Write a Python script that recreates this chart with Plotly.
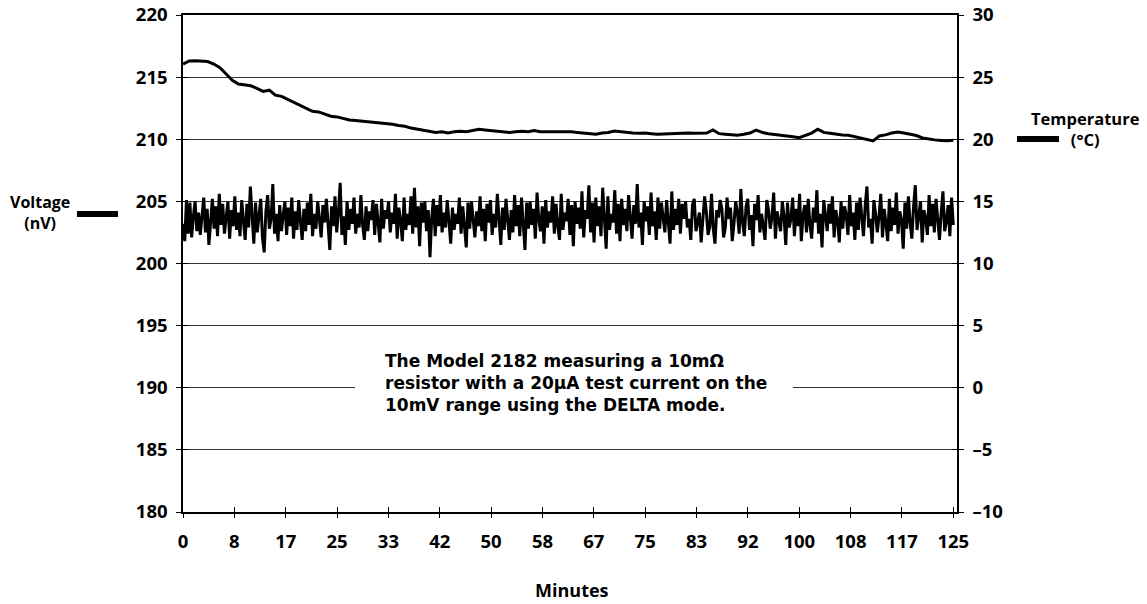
import plotly.graph_objects as go

# ---------------- data ----------------
voltage_nv = [
    203.2, 201.8, 205.1, 202.4, 204.9, 202.1, 203.8, 205.0, 202.6, 204.1, 202.3, 203.9, 205.3, 202.5, 204.4, 201.5, 203.6, 205.2, 202.8, 204.6,
    202.2, 205.6, 203.1, 204.8, 202.4, 203.7, 205.0, 202.0, 204.3, 203.0, 205.4, 202.7, 204.1, 202.2, 205.1, 203.4, 201.9, 204.8, 202.9, 206.2,
    203.3, 201.6, 204.9, 202.5, 203.8, 205.2, 202.1, 200.9, 204.2, 205.5, 202.8, 203.6, 206.4, 202.4, 204.0, 201.8, 204.7, 202.6, 203.9, 205.0,
    202.3, 204.5, 203.0, 205.3, 202.0, 204.2, 202.7, 205.1, 203.4, 201.9, 204.4, 202.6, 204.9, 203.1, 205.6, 202.2, 204.0, 202.8, 205.0, 203.5,
    202.1, 204.7, 203.3, 205.2, 202.9, 201.1, 204.6, 203.0, 205.4, 202.5, 204.1, 206.5, 202.3, 203.8, 201.5, 205.0, 202.7, 204.4, 203.2, 205.3,
    202.4, 204.0, 202.9, 205.5, 203.1, 201.9, 204.6, 202.6, 204.2, 203.5, 205.1, 202.3, 204.8, 203.0, 201.7, 205.2, 202.8, 204.3, 203.6, 205.0,
    202.5, 204.1, 203.2, 205.6, 202.0, 204.5, 203.4, 201.8, 205.3, 202.7, 204.0, 203.1, 205.4, 202.4, 206.1, 202.9, 204.6, 201.4, 204.9, 203.3,
    205.0, 202.6, 204.3, 200.5, 203.7, 205.2, 202.2, 204.7, 203.0, 205.5, 202.5, 204.1, 202.9, 205.1, 203.4, 201.6, 204.5, 202.7, 204.0, 203.2,
    205.3, 202.4, 204.6, 203.1, 201.3, 204.9, 202.8, 205.0, 203.5, 202.1, 204.2, 203.0, 205.4, 202.6, 204.4, 201.8, 204.8, 203.3, 205.1, 202.3,
    204.0, 202.9, 205.6, 203.2, 201.5, 204.5, 202.7, 205.2, 203.6, 201.9, 204.3, 202.5, 205.5, 203.0, 204.7, 202.2, 205.3, 203.4, 201.1, 204.9,
    202.8, 205.0, 203.1, 204.4, 202.0, 205.7, 203.5, 202.6, 204.6, 201.6, 205.1, 202.9, 204.2, 203.3, 205.4, 202.4, 204.8, 203.0, 201.9, 205.6,
    202.7, 204.1, 203.4, 205.2, 202.3, 204.7, 201.4, 205.0, 203.2, 204.5, 202.8, 205.8, 202.1, 204.3, 203.6, 206.3, 202.5, 204.9, 201.7, 205.3,
    203.0, 204.6, 202.2, 206.1, 203.5, 201.2, 205.4, 202.7, 204.0, 203.3, 205.9, 202.4, 204.8, 201.8, 205.2, 203.1, 204.4, 202.6, 205.5, 203.8,
    202.0, 204.7, 203.2, 206.4, 202.9, 204.1, 201.5, 205.0, 203.4, 204.6, 202.3, 205.7, 203.0, 204.2, 201.9, 205.3, 202.8, 204.9, 203.5, 202.5,
    205.1, 203.3, 201.6, 205.8, 202.7, 204.4, 203.1, 205.2, 202.4, 204.8, 203.6, 205.0,
    202.9, 203.6, 201.9, 204.7, 205.2, 202.6, 203.4, 204.1, 201.7, 203.9, 205.4, 204.2, 202.3, 203.0, 205.6, 202.8, 201.6, 204.3, 203.7, 205.1,
    204.4, 202.1, 202.9, 205.3, 203.6, 204.5, 201.8, 203.2, 205.0, 204.1, 202.4, 206.0, 203.3, 202.2, 204.6, 205.2, 202.7, 203.9, 201.4, 204.8,
    203.5, 205.5, 202.5, 204.0, 203.1, 201.9, 205.1, 204.3, 202.8, 203.7, 205.7, 202.0, 204.2, 203.4, 202.6, 205.0, 203.8, 201.5, 204.9, 202.9,
    203.6, 205.3, 202.2, 204.4, 203.0, 205.6, 201.8, 203.9, 204.7, 202.5, 205.2, 203.1, 202.0, 204.5, 203.3, 205.9, 202.4, 204.0, 201.3, 205.1,
    203.7, 202.6, 204.8, 203.2, 205.4, 202.1, 204.3, 203.5, 201.7, 205.0, 202.8, 204.6, 203.9, 202.3, 205.5, 203.0, 204.1, 201.9, 204.9, 202.7,
    205.3, 203.4, 202.2, 204.7, 206.2, 202.9, 203.6, 201.6, 205.1, 204.0, 202.5, 203.8, 205.6, 202.1, 204.4, 203.2, 201.8, 205.2, 202.6, 204.5,
    203.1, 205.7, 202.4, 204.2, 203.5, 201.2, 204.9, 202.8, 205.4, 203.3, 202.0, 204.6, 206.3, 202.7, 203.9, 205.0, 201.7, 204.3, 203.6, 202.3,
    205.5, 203.0, 204.8, 202.5, 205.2, 203.7, 201.9, 204.1, 205.8, 202.6, 203.4, 204.7, 202.2, 205.3, 203.1,
]

temperature_c = [
    26.05, 26.3, 26.32, 26.3, 26.25, 26.05, 25.75, 25.25, 24.75, 24.45, 24.4, 24.3, 24.1, 23.85, 23.95, 23.55, 23.45, 23.2, 23.0, 22.7,
    22.5, 22.25, 22.2, 22.0, 21.85, 21.8, 21.65, 21.55, 21.5, 21.45, 21.4, 21.35, 21.3, 21.3, 21.2, 21.1, 21.05, 20.9, 20.8, 20.7,
    20.62, 20.55, 20.6, 20.5, 20.6, 20.65, 20.6, 20.7, 20.8, 20.75, 20.7, 20.6, 20.55, 20.55, 20.6, 20.65, 20.6, 20.7, 20.6, 20.6,
    20.6, 20.62, 20.65, 20.6, 20.55, 20.5, 20.45, 20.4, 20.5, 20.55, 20.67, 20.6, 20.55, 20.5, 20.48, 20.5, 20.45, 20.4, 20.42, 20.45,
    20.45, 20.48, 20.5, 20.48, 20.5, 20.5, 20.75, 20.45, 20.4, 20.35, 20.32, 20.4, 20.5, 20.73, 20.55, 20.45, 20.4, 20.35, 20.3, 20.2,
    20.13, 20.3, 20.5, 20.8, 20.55, 20.48, 20.4, 20.35, 20.32, 20.2, 20.05, 19.95, 19.87, 20.27, 20.35, 20.5, 20.59, 20.5, 20.4, 20.3,
    20.1, 20.0, 19.95, 19.9, 19.87, 19.92,
]

duration_min = 125
x_tick_labels = ["0", "8", "17", "25", "33", "42", "50", "58", "67", "75", "83", "92", "100", "108", "117", "125"]
left_tick_vals = [180, 185, 190, 195, 200, 205, 210, 215, 220]
right_tick_vals = [-10, -5, 0, 5, 10, 15, 20, 25, 30]
right_tick_labels = ["\u201310", "\u20135", "0", "5", "10", "15", "20", "25", "30"]

# sample times (uniform sampling over the run)
nv = len(voltage_nv)
t_v = [duration_min * i / (nv - 1) for i in range(nv)]
nt = len(temperature_c)
t_t = [duration_min * i / (nt - 1) for i in range(nt)]
x_tick_vals = [duration_min * i / (len(x_tick_labels) - 1) for i in range(len(x_tick_labels))]

FONT = "Open Sans"
tick_font = dict(family=FONT, size=18.5, color="black", weight="bold")

fig = go.Figure()
fig.add_trace(go.Scatter(x=t_v, y=voltage_nv, mode="lines",
                         line=dict(color="black", width=3), yaxis="y", xaxis="x"))
fig.add_trace(go.Scatter(x=t_t, y=temperature_c, mode="lines",
                         line=dict(color="black", width=3), yaxis="y2", xaxis="x"))
# invisible traces to carry the inward tick-mark axes
fig.add_trace(go.Scatter(x=[None], y=[None], xaxis="x2", yaxis="y3", showlegend=False, hoverinfo="skip"))
fig.add_trace(go.Scatter(x=[None], y=[None], xaxis="x2", yaxis="y4", showlegend=False, hoverinfo="skip"))

xr = [0, 125.6]
common_tick = dict(tickwidth=1, tickcolor="black", automargin=False)
fig.update_layout(
    width=1147, height=604,
    margin=dict(l=183, r=190, t=15, b=92, autoexpand=False),
    plot_bgcolor="white", paper_bgcolor="white",
    showlegend=False,
    xaxis=dict(range=xr, tickvals=x_tick_vals, ticktext=x_tick_labels,
               showgrid=False, zeroline=False, showline=True, linecolor="black", linewidth=1.5,
               mirror=True, ticks="outside", ticklen=4, tickfont=tick_font, ticklabelstandoff=8,
               ticklabeloverflow="allow", **common_tick),
    xaxis2=dict(range=xr, tickvals=x_tick_vals, overlaying="x", anchor="y3",
                showgrid=False, zeroline=False, showline=False, ticks="inside", ticklen=5,
                showticklabels=False, **common_tick),
    yaxis=dict(range=[180, 220], tickvals=left_tick_vals, showgrid=True, gridcolor="#333",
               gridwidth=1, zeroline=False, showline=True, linecolor="black", linewidth=1.5,
               ticks="outside", ticklen=5, tickfont=tick_font, ticklabelstandoff=5,
               ticklabeloverflow="allow", **common_tick),
    yaxis2=dict(range=[-10, 30], tickvals=right_tick_vals, ticktext=right_tick_labels,
                overlaying="y", side="right", anchor="x", showgrid=False, zeroline=False,
                showline=True, linecolor="black", linewidth=1.5, ticks="outside", ticklen=5,
                tickfont=tick_font, ticklabelstandoff=5, ticklabeloverflow="allow", **common_tick),
    yaxis3=dict(range=[180, 220], tickvals=left_tick_vals, overlaying="y", anchor="x2",
                showgrid=False, zeroline=False, showline=False, ticks="inside", ticklen=5,
                showticklabels=False, **common_tick),
    yaxis4=dict(range=[-10, 30], tickvals=right_tick_vals, overlaying="y", side="right", anchor="x2",
                showgrid=False, zeroline=False, showline=False, ticks="inside", ticklen=5,
                showticklabels=False, **common_tick),
)

label_font = dict(family=FONT, size=16, color="black", weight="bold")
fig.add_annotation(xref="paper", yref="paper", x=-0.1848, y=0.6036, text="Voltage<br>(nV)",
                   xanchor="center", yanchor="middle",
                   showarrow=False, align="center", font=label_font)
fig.add_annotation(xref="paper", yref="paper", x=1.166, y=0.7706, text="Temperature<br>(\u00b0C)",
                   xanchor="center", yanchor="middle",
                   showarrow=False, align="center", font=dict(family=FONT, size=16.5, color="black", weight="bold"))
fig.add_annotation(xref="paper", yref="paper", x=0.502, y=-0.157, text="Minutes",
                   xanchor="center", yanchor="middle",
                   showarrow=False, font=dict(family=FONT, size=18, color="black", weight="bold"))

# white gap in the 190 gridline behind the note
fig.add_shape(type="rect", xref="paper", yref="paper", x0=(355 - 183) / 774, x1=(793 - 183) / 774,
              y0=0.235, y1=0.29, fillcolor="white", line=dict(width=0), layer="above")
fig.add_annotation(xref="paper", yref="paper", x=(383 - 183) / 774, y=0.2596,
                   xanchor="left", yanchor="middle",
                   text=("The Model 2182 measuring a 10m\u03a9<br>"
                         "resistor with a 20\u03bcA test current on the<br>"
                         "10mV range using the DELTA mode."),
                   showarrow=False, align="left",
                   font=dict(family="DejaVu Sans", size=17, color="black", weight="bold"))

# legend line keys beside the axis titles
fig.add_shape(type="line", xref="paper", yref="paper", x0=-0.137, x1=-0.084, y0=0.5996, y1=0.5996,
              line=dict(color="black", width=6))
fig.add_shape(type="line", xref="paper", yref="paper", x0=1.0775, x1=1.1318, y0=0.7505, y1=0.7505,
              line=dict(color="black", width=6))

# remove the browser's default page margin so the figure sits at the window origin
fig.write_html("out.html", config={"displayModeBar": False},
               post_script="document.body.style.margin='0';")
